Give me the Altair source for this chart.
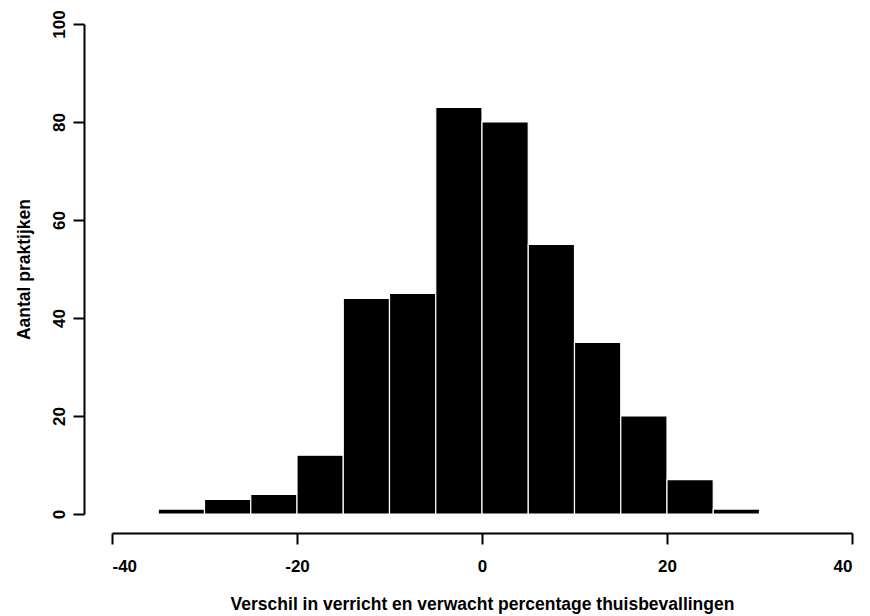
import altair as alt
import pandas as pd

bin_start = [-35, -30, -25, -20, -15, -10, -5, 0, 5, 10, 15, 20, 25]
counts = [1, 3, 4, 12, 44, 45, 83, 80, 55, 35, 20, 7, 1]
x_ticks = [-40, -20, 0, 20, 40]
y_ticks = [0, 20, 40, 60, 80, 100]

df = pd.DataFrame({
    "start": bin_start,
    "end": [b + 5 for b in bin_start],
    "count": counts,
})

FONT = "Liberation Sans"

chart = alt.Chart(df).mark_rect(
    color="black", stroke="white", strokeWidth=1.2
).encode(
    x=alt.X("start:Q",
            scale=alt.Scale(domain=[-40, 40], nice=False, zero=False),
            axis=alt.Axis(
                values=x_ticks, grid=False, labelExpr="'' + datum.value",
                title="Verschil in verricht en verwacht percentage thuisbevallingen",
                offset=19, tickSize=11, tickWidth=2, domainWidth=2,
                domainColor="black", tickColor="black",
                labelPadding=14, labelFontSize=17, labelFont=FONT,
                labelFontWeight="bold", labelColor="black",
                titleFont=FONT, titleFontSize=17.5, titleFontWeight="bold",
                titleColor="black", titleY=71, titleBaseline="middle",
            )),
    x2="end:Q",
    y=alt.Y("count:Q",
            scale=alt.Scale(domain=[0, 100], nice=False),
            axis=alt.Axis(
                values=y_ticks, grid=False, labelExpr="'' + datum.value",
                title="Aantal praktijken",
                offset=28, tickSize=11, tickWidth=2, domainWidth=2,
                domainColor="black", tickColor="black",
                labelAngle=270, labelAlign="center", labelBaseline="bottom",
                labelPadding=5, labelFontSize=17, labelFont=FONT,
                labelFontWeight="bold", labelColor="black",
                titleFont=FONT, titleFontSize=17.5, titleFontWeight="bold",
                titleColor="black", titleAngle=270, titleX=-60, titleY=245,
                titleBaseline="middle", titleAlign="center",
            )),
    y2=alt.datum(0),
).properties(
    width=740, height=490,
    background="white",
    autosize=alt.AutoSizeParams(type="none"),
    padding={"left": 112, "top": 24, "right": 18, "bottom": 102},
).configure_view(strokeWidth=0, stroke="transparent")

chart.save("out.html", embed_options={"renderer": "svg", "actions": False})
